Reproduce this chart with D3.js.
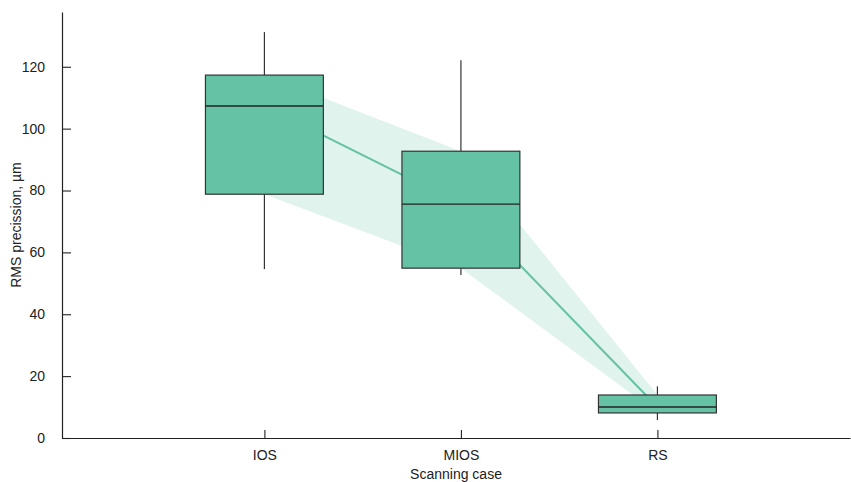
<!DOCTYPE html>
<html>
<head>
<meta charset="utf-8">
<script src="https://cdn.jsdelivr.net/npm/d3@7"></script>
<style>
  html, body { margin: 0; padding: 0; background: #fff; }
  svg { display: block; font-family: "Liberation Sans", Arial, sans-serif; }
</style>
</head>
<body>
<svg id="chart" width="851" height="482"></svg>
<script>
// Scanning cases and their box statistics (µm)
const categories = ["IOS", "MIOS", "RS"];
const whiskerHigh = [131.2, 122.1, 16.7];
const q3 = [117.3, 92.7, 13.9];
const median = [107.3, 75.6, 10.0];
const q1 = [78.8, 54.9, 8.1];
const whiskerLow = [54.6, 52.7, 5.8];
const yTicks = [0, 20, 40, 60, 80, 100, 120];

const W = 851, H = 482;
const margin = { left: 62, right: 1, top: 12, bottom: 44 };
const svg = d3.select("#chart");

const x = d3.scaleLinear()
  .domain([-1.03, 2.98])
  .range([margin.left, W - margin.right]);
const y = d3.scaleLinear()
  .domain([0, 137.7])
  .range([H - margin.bottom, margin.top]);

const color = "#66c2a5";
const edge = "#333333";
const boxHalf = 0.3;

const rows = categories.map((c, i) => ({
  c, i, hi: whiskerHigh[i], q3: q3[i], med: median[i], q1: q1[i], lo: whiskerLow[i]
}));

// Interquartile band between cases
svg.append("path")
  .datum(rows)
  .attr("d", d3.area().x(d => x(d.i)).y0(d => y(d.q1)).y1(d => y(d.q3)))
  .attr("fill", color)
  .attr("fill-opacity", 0.2)
  .attr("stroke", "none");

// Median trend line
svg.append("path")
  .datum(rows)
  .attr("d", d3.line().x(d => x(d.i)).y(d => y(d.med)))
  .attr("fill", "none")
  .attr("stroke", color)
  .attr("stroke-width", 2);

// Box plots
const g = svg.append("g").selectAll("g").data(rows).join("g");
g.append("line")
  .attr("x1", d => x(d.i)).attr("x2", d => x(d.i))
  .attr("y1", d => y(d.hi)).attr("y2", d => y(d.q3))
  .attr("stroke", edge).attr("stroke-width", 1.2);
g.append("line")
  .attr("x1", d => x(d.i)).attr("x2", d => x(d.i))
  .attr("y1", d => y(d.q1)).attr("y2", d => y(d.lo))
  .attr("stroke", edge).attr("stroke-width", 1.2);
g.append("rect")
  .attr("x", d => x(d.i - boxHalf))
  .attr("width", d => x(d.i + boxHalf) - x(d.i - boxHalf))
  .attr("y", d => y(d.q3))
  .attr("height", d => y(d.q1) - y(d.q3))
  .attr("fill", color)
  .attr("stroke", edge).attr("stroke-width", 1.2);
g.append("line")
  .attr("x1", d => x(d.i - boxHalf)).attr("x2", d => x(d.i + boxHalf))
  .attr("y1", d => y(d.med)).attr("y2", d => y(d.med))
  .attr("stroke", "#222").attr("stroke-width", 1.4);

// Axes
const xAxis = d3.axisBottom(x)
  .tickValues(categories.map((c, i) => i))
  .tickFormat(i => categories[i])
  .tickSizeInner(-8).tickSizeOuter(0).tickPadding(12);
const gx = svg.append("g")
  .attr("transform", `translate(0,${H - margin.bottom})`)
  .call(xAxis);

const yAxis = d3.axisLeft(y)
  .tickValues(yTicks)
  .tickSizeInner(-9).tickSizeOuter(0).tickPadding(17);
const gy = svg.append("g")
  .attr("transform", `translate(${margin.left},0)`)
  .call(yAxis);

[gx, gy].forEach(a => {
  a.select(".domain").attr("stroke", "#222").attr("stroke-width", 1.2);
  a.selectAll(".tick line").attr("stroke", "#222").attr("stroke-width", 1.1);
  a.selectAll(".tick text")
    .attr("fill", "#222")
    .style("font-size", "14px")
    .style("font-family", "'Liberation Sans', Arial, sans-serif");
});

svg.append("text")
  .attr("x", (margin.left + W - margin.right) / 2)
  .attr("y", H - 3)
  .attr("text-anchor", "middle")
  .attr("fill", "#222")
  .style("font-size", "14px")
  .text("Scanning case");

svg.append("text")
  .attr("transform", `translate(21,${(margin.top + H - margin.bottom) / 2}) rotate(-90)`)
  .attr("text-anchor", "middle")
  .attr("fill", "#222")
  .style("font-size", "14px")
  .text("RMS precission, µm");
</script>
</body>
</html>
